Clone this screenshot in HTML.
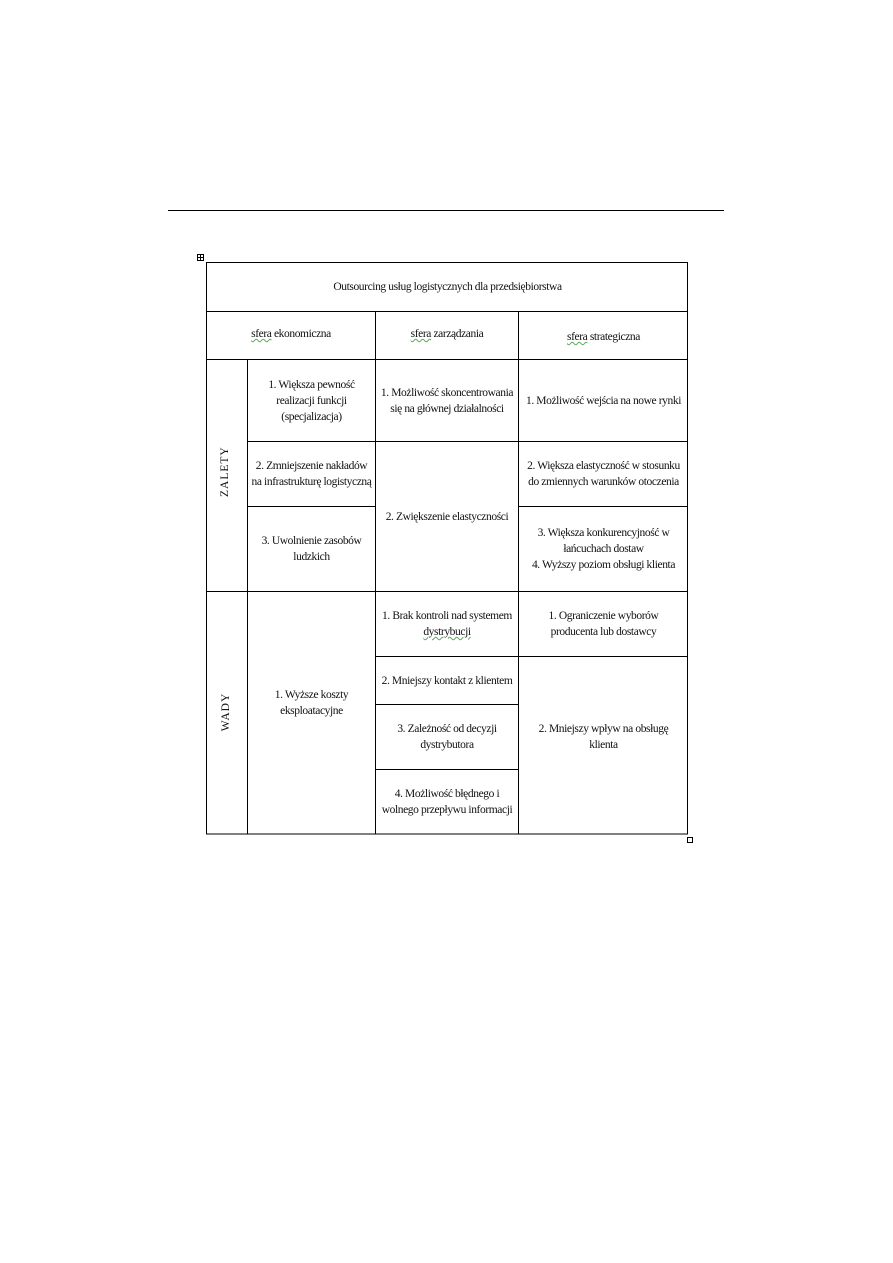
<!DOCTYPE html>
<html><head><meta charset="utf-8"><style>
body{margin:0;background:#fff;}
#p{position:relative;width:893px;height:1263px;overflow:hidden;font-family:"Liberation Serif",serif;font-size:11.5px;color:#111;letter-spacing:-0.4px;}
.c{position:absolute;display:flex;align-items:center;justify-content:center;text-align:center;line-height:16px;}
.u{text-decoration:underline wavy #5a5;text-decoration-thickness:1px;}
.v{position:absolute;transform:rotate(-90deg);white-space:nowrap;letter-spacing:1px;}
</style></head><body><div id="p">
<svg width="893" height="1263" style="position:absolute;left:0;top:0">
<g stroke="#000" stroke-width="1" shape-rendering="crispEdges" fill="none">
<line x1="168" y1="210.5" x2="724" y2="210.5"/>
<rect x="206.5" y="262.5" width="481" height="571.5"/>
<line x1="206" y1="311.5" x2="688" y2="311.5"/>
<line x1="206" y1="359.5" x2="688" y2="359.5"/>
<line x1="247" y1="441.5" x2="688" y2="441.5"/>
<line x1="247" y1="506.5" x2="375" y2="506.5"/>
<line x1="518" y1="506.5" x2="688" y2="506.5"/>
<line x1="206" y1="591.5" x2="688" y2="591.5"/>
<line x1="375" y1="656.5" x2="688" y2="656.5"/>
<line x1="375" y1="704.5" x2="518" y2="704.5"/>
<line x1="375" y1="769.5" x2="518" y2="769.5"/>
<line x1="247.5" y1="359" x2="247.5" y2="834"/>
<line x1="375.5" y1="311" x2="375.5" y2="834"/>
<line x1="518.5" y1="311" x2="518.5" y2="834"/>
<rect x="197.5" y="254.5" width="6" height="6"/>
<line x1="200.5" y1="255" x2="200.5" y2="260"/>
<line x1="198" y1="257.5" x2="203" y2="257.5"/>
<rect x="687.5" y="837.5" width="5" height="5"/>
</g></svg>
<div class="c" style="left:207px;top:263px;width:481px;height:48px">Outsourcing usług logistycznych dla przedsiębiorstwa</div>
<div class="c" style="left:207px;top:312px;width:168px;height:44px"><span><span class="u">sfera</span> ekonomiczna</span></div>
<div class="c" style="left:376px;top:312px;width:142px;height:44px"><span><span class="u">sfera</span> zarządzania</span></div>
<div class="c" style="left:519px;top:312px;width:169px;height:50px"><span><span class="u">sfera</span> strategiczna</span></div>
<div class="v" style="left:200px;top:466px;width:50px;text-align:center">ZALETY</div>
<div class="v" style="left:206px;top:706px;width:40px;text-align:center">WADY</div>
<div class="c" style="left:248px;top:360px;width:127px;height:81px">1. Większa pewność<br>realizacji funkcji<br>(specjalizacja)</div>
<div class="c" style="left:376px;top:360px;width:142px;height:81px">1. Możliwość skoncentrowania<br>się na głównej działalności</div>
<div class="c" style="left:519px;top:360px;width:169px;height:81px">1. Możliwość wejścia na nowe rynki</div>
<div class="c" style="left:248px;top:442px;width:127px;height:64px">2. Zmniejszenie nakładów<br>na infrastrukturę logistyczną</div>
<div class="c" style="left:376px;top:442px;width:142px;height:149px">2. Zwiększenie elastyczności</div>
<div class="c" style="left:519px;top:442px;width:169px;height:64px">2. Większa elastyczność w stosunku<br>do zmiennych warunków otoczenia</div>
<div class="c" style="left:248px;top:507px;width:127px;height:84px">3. Uwolnienie zasobów<br>ludzkich</div>
<div class="c" style="left:519px;top:507px;width:169px;height:84px">3. Większa konkurencyjność w<br>łańcuchach dostaw<br>4. Wyższy poziom obsługi klienta</div>
<div class="c" style="left:248px;top:592px;width:127px;height:242px;padding-bottom:20px;box-sizing:border-box">1. Wyższe koszty<br>eksploatacyjne</div>
<div class="c" style="left:376px;top:592px;width:142px;height:64px"><span>1. Brak kontroli nad systemem<br><span class="u">dystrybucji</span></span></div>
<div class="c" style="left:519px;top:592px;width:169px;height:64px">1. Ograniczenie wyborów<br>producenta lub dostawcy</div>
<div class="c" style="left:376px;top:657px;width:142px;height:47px">2. Mniejszy kontakt z klientem</div>
<div class="c" style="left:376px;top:705px;width:142px;height:64px">3. Zależność od decyzji<br>dystrybutora</div>
<div class="c" style="left:376px;top:770px;width:142px;height:64px">4. Możliwość błędnego i<br>wolnego przepływu informacji</div>
<div class="c" style="left:519px;top:657px;width:169px;height:177px;padding-bottom:18px;box-sizing:border-box">2. Mniejszy wpływ na obsługę<br>klienta</div>
</div></body></html>
